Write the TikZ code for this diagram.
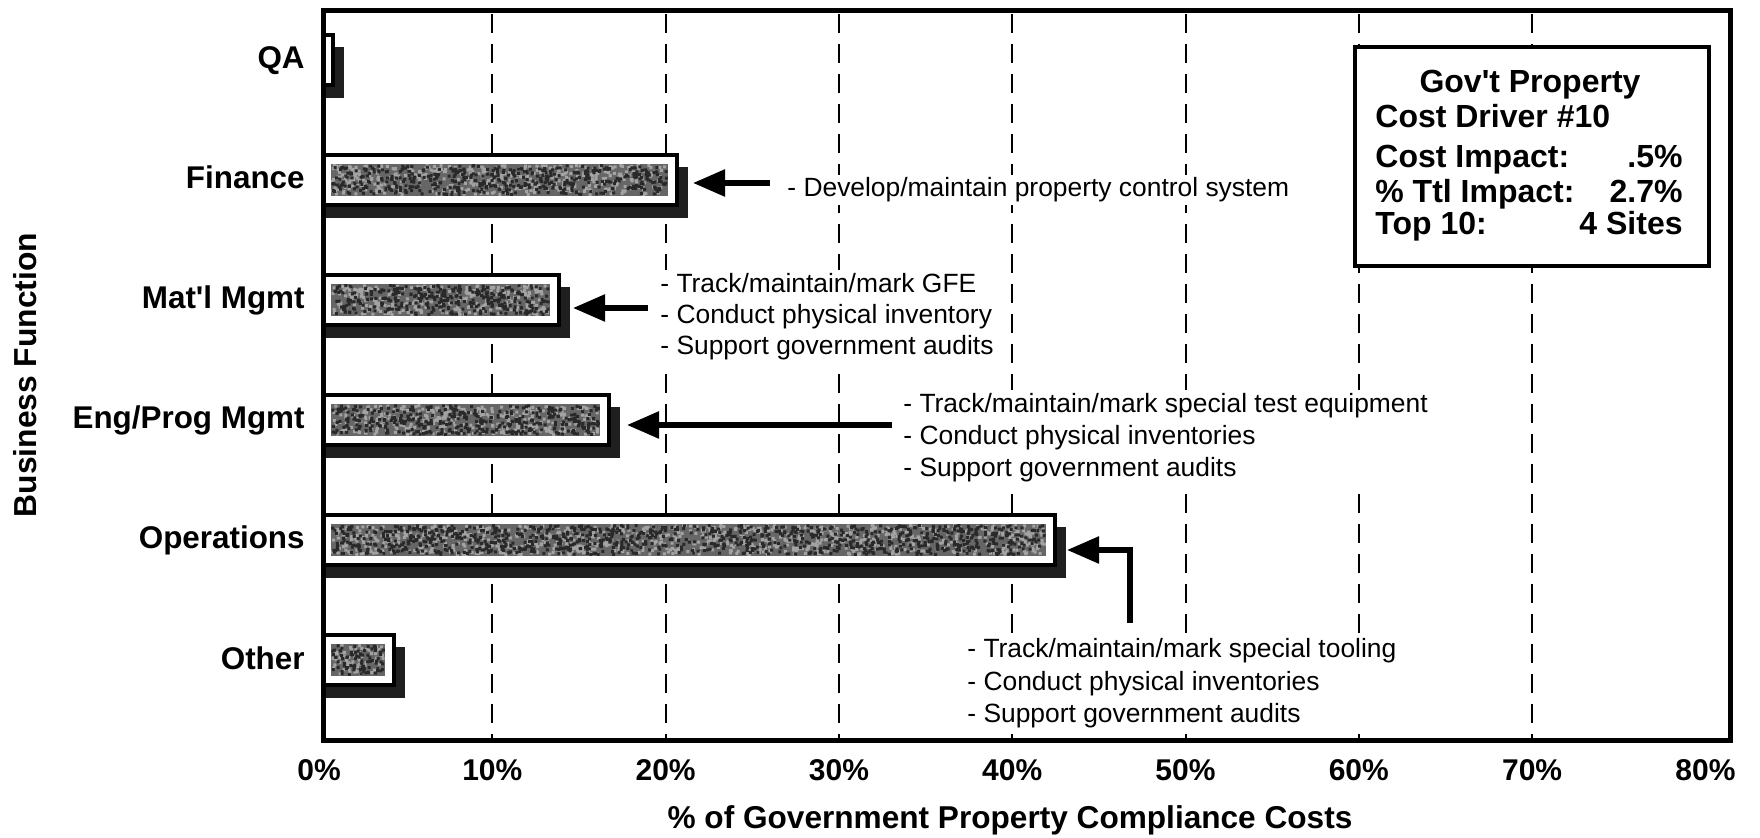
\documentclass[tikz,border=0pt]{standalone}
\usepackage{fontspec}
\setmainfont{Liberation Sans}
\usetikzlibrary{arrows.meta}

\begin{document}
\begin{tikzpicture}[x=0.5pt,y=-0.5pt,
  catlabel/.style={anchor=base east, inner sep=0, font=\bfseries\fontsize{15.7}{18}\selectfont},
  ticklabel/.style={anchor=base, inner sep=0, font=\bfseries\fontsize{15}{18}\selectfont},
  axistitle/.style={inner sep=0, font=\bfseries\fontsize{15.8}{19}\selectfont},
  note/.style={align=left, fill=white, inner sep=1.5pt, font=\fontsize{13.2}{#1}\selectfont},
  gridline/.style={line width=1pt, dash pattern=on 9.5pt off 5.5pt},
  plotframe/.style={line width=2.5pt},
  pointer/.style={line width=2.8pt, -{Triangle[length=16pt,width=13pt]}},
  shadowbar/.style={fill=black!88},
  frontbar/.style={draw=black, line width=2pt, fill=white},
  grain/.style={fill=black!60},
  lightspeck/.style={fill=black!36},
  darkspeck/.style={fill=black!84},
  infobox/.style={draw, line width=2pt, fill=white, inner sep=0},
  infotext/.style={inner sep=0, font=\bfseries\fontsize{16}{19}\selectfont}]

\useasboundingbox (0,0) rectangle (1760,838);
\pgfmathsetseed{4321}

% dashed grid at every 10%
\foreach \i in {1,...,7}
  \draw[gridline] ({319+173.3*\i},14) -- ({319+173.3*\i},738);

% bars: shadow, outlined front box, grey inner fill
\foreach \nm/\c/\xr in {qa/60/333, fin/180/677, mat/300/559, eng/420/609, ops/540/1055, oth/660/394}{
  \fill[shadowbar] (323,{\c-13}) rectangle ({\xr+11},{\c+38});
  \draw[frontbar] (323,{\c-25}) rectangle (\xr,{\c+25});
}
% stippled grey fill with scattered light and dark specks
\foreach \c/\xr in {180/677, 300/559, 420/609, 540/1055, 660/394}{
  \fill[grain] (331,{\c-16}) rectangle ({\xr-9},{\c+16});
  \pgfmathtruncatemacro\nspk{(\xr-340)/22*32}
  \fill[lightspeck] \foreach \k in {1,...,\nspk}
    { ({331+rnd*(\xr-343)},{\c-16+rnd*29}) rectangle ++(3,3) };
  \fill[darkspeck] \foreach \k in {1,...,\nspk}
    { ({331+rnd*(\xr-343)},{\c-16+rnd*29}) rectangle ++(3,3) };
}

% category labels
\node[catlabel] (lqa)  at (305,69)  {QA};
\node[catlabel] (lfin) at (305,189) {Finance};
\node[catlabel] (lmat) at (305,309) {Mat\textquotesingle l Mgmt};
\node[catlabel] (leng) at (305,429) {Eng/Prog Mgmt};
\node[catlabel] (lops) at (305,549) {Operations};
\node[catlabel] (loth) at (305,669) {Other};

% bar end points the call-outs aim at
\coordinate (fin-end) at (693,183);
\coordinate (mat-end) at (573,308);
\coordinate (eng-end) at (627,425);
\coordinate (ops-end) at (1067,550);

% call-out texts
\node[note=15, anchor=base west] (finnote) at (784,197)
  {- Develop/maintain property control system};
\node[note=15.6, anchor=north west] (matnote) at (657,270)
  {- Track/maintain/mark GFE\\- Conduct physical inventory\\- Support government audits};
\node[note=16, anchor=north west] (engnote) at (900,390)
  {- Track/maintain/mark special test equipment\\- Conduct physical inventories\\- Support government audits};
\node[note=16.25, anchor=north west] (opsnote) at (964,635)
  {- Track/maintain/mark special tooling\\- Conduct physical inventories\\- Support government audits};

% call-out arrows
\coordinate (fin-tail) at (770,183);
\coordinate (mat-tail) at (648,308);
\coordinate (eng-tail) at (892,425);
\coordinate (ops-tail) at (1130,623);
\draw[pointer] (fin-tail) -- (fin-end);
\draw[pointer] (mat-tail) -- (mat-end);
\draw[pointer] (eng-tail) -- (eng-end);
\draw[pointer] (ops-tail) |- (ops-end);

% summary box
\node[infobox, anchor=north west, minimum width=177pt, minimum height=109.5pt] (info) at (1353,45) {};
\node[infotext, anchor=base] (ib-title) at (1530,93) {Gov\textquotesingle t Property};
\node[infotext, anchor=base west] (ib-driver) at (1375,128) {Cost Driver \#10};
\node[infotext, anchor=base west] (ib-cost) at (1375,168) {Cost Impact:};
\node[infotext, anchor=base east] (ib-costv) at (1683,168) {.5\%};
\node[infotext, anchor=base west] (ib-ttl) at (1375,203) {\% Ttl Impact:};
\node[infotext, anchor=base east] (ib-ttlv) at (1683,203) {2.7\%};
\node[infotext, anchor=base west] (ib-top) at (1375,235) {Top 10:};
\node[infotext, anchor=base east] (ib-topv) at (1683,235) {4 Sites};

% plot frame
\draw[plotframe] (323,11) rectangle (1730,740);

% axis tick labels and titles
\foreach \i/\t in {0/0,1/10,2/20,3/30,4/40,5/50,6/60,7/70,8/80}
  \node[ticklabel] (tick\i) at ({319+173.3*\i},780) {\t\%};
\node[axistitle, anchor=base] (xtitle) at (1010,828) {\% of Government Property Compliance Costs};
\node[axistitle, rotate=90, font=\bfseries\fontsize{15.9}{19}\selectfont] (ytitle) at (25,375) {Business Function};
\end{tikzpicture}
\end{document}
